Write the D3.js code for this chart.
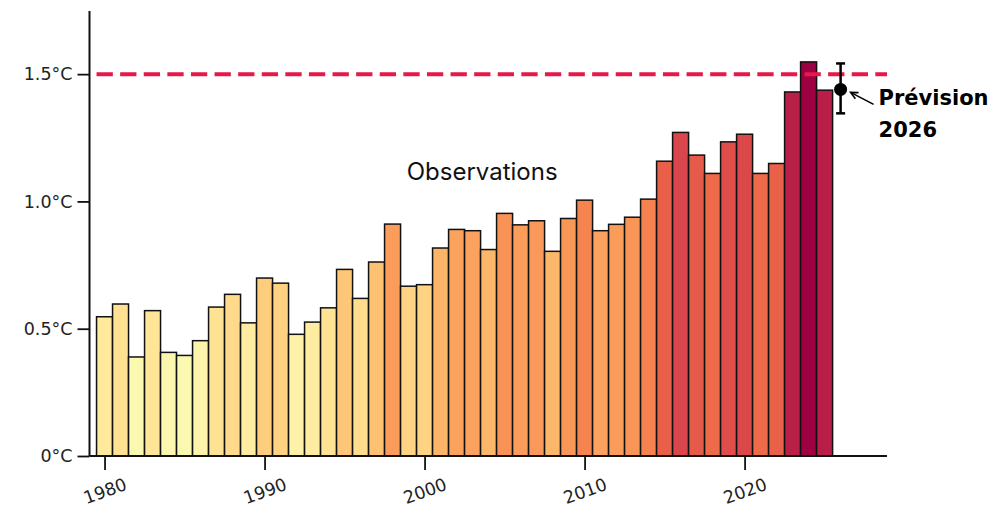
<!DOCTYPE html>
<html>
<head>
<meta charset="utf-8">
<script src="https://cdn.jsdelivr.net/npm/d3@7"></script>
<style>
  html, body { margin: 0; padding: 0; background: #fff; }
  svg { display: block; }
</style>
</head>
<body>
<svg id="chart" width="1005" height="508"></svg>
<script>
// Annual global temperature anomaly (°C above pre-industrial), 1980–2025
const years = d3.range(1980, 2026);
const anomalies = [
  0.547, 0.597, 0.389, 0.571, 0.407, 0.395, 0.453, 0.585, 0.635, 0.523,
  0.699, 0.679, 0.478, 0.526, 0.582, 0.733, 0.619, 0.762, 0.911, 0.667,
  0.673, 0.817, 0.890, 0.885, 0.811, 0.953, 0.908, 0.924, 0.804, 0.933,
  1.005, 0.885, 0.910, 0.938, 1.009, 1.158, 1.271, 1.182, 1.110, 1.234,
  1.264, 1.110, 1.149, 1.430, 1.548, 1.437
];
// Forecast for next year with its uncertainty range
const forecastYear = [2026];
const forecastValue = [1.44];
const forecastRange = [1.346, 1.542];
const thresholdValue = [1.5];

const yTicks = [0, 0.5, 1.0, 1.5];
const yTickLabels = ["0°C", "0.5°C", "1.0°C", "1.5°C"];
const xTicks = [1980, 1990, 2000, 2010, 2020];

const svg = d3.select("#chart");

const x = d3.scaleLinear().domain([1979.06, 2028.9]).range([89.5, 887]);
const y = d3.scaleLinear().domain([0, 1.748]).range([456, 11]);
// value -> position along the Spectral scheme (dark red for the warmest years)
const colorT = d3.scaleLinear().domain([1.548, 0.389]).range([0, 0.5]);

const barW = x(1981) - x(1980);

// bars
svg.append("g")
  .selectAll("rect")
  .data(years.map((yr, i) => ({ yr, v: anomalies[i] })))
  .join("rect")
  .attr("x", d => x(d.yr) - barW / 2)
  .attr("width", barW)
  .attr("y", d => y(d.v))
  .attr("height", d => y(0) - y(d.v))
  .attr("fill", d => d3.interpolateSpectral(colorT(d.v)))
  .attr("stroke", "#111")
  .attr("stroke-width", 1.5);

// 1.5 °C threshold
svg.append("line")
  .attr("x1", x(1979.5)).attr("x2", x(2028.9))
  .attr("y1", y(thresholdValue[0])).attr("y2", y(thresholdValue[0]))
  .attr("stroke", "#e5194a")
  .attr("stroke-width", 4)
  .attr("stroke-dasharray", "16.3,7.3");

// y axis
const yAxis = d3.axisLeft(y)
  .tickValues(yTicks)
  .tickFormat((d, i) => yTickLabels[i])
  .tickSize(12)
  .tickPadding(5);
const gy = svg.append("g").attr("transform", `translate(${x.range()[0]},0)`).call(yAxis);
gy.select(".domain").attr("d", `M0,${y.range()[1]}V${y.range()[0]}`)
  .attr("stroke", "#111").attr("stroke-width", 2);
gy.selectAll(".tick line").attr("stroke", "#111").attr("stroke-width", 1.8);
gy.selectAll(".tick text")
  .attr("font-family", "DejaVu Sans")
  .attr("font-size", 17.5)
  .attr("fill", "#222");

// x axis
const xAxis = d3.axisBottom(x).tickValues(xTicks).tickFormat(d3.format("d")).tickSize(14);
const gx = svg.append("g").attr("transform", `translate(0,${y(0)})`).call(xAxis);
gx.select(".domain").attr("d", `M${x.range()[0]},0H${x.range()[1]}`)
  .attr("stroke", "#111").attr("stroke-width", 2);
gx.selectAll(".tick line").attr("stroke", "#111").attr("stroke-width", 1.8);
gx.selectAll(".tick text")
  .attr("font-family", "DejaVu Sans")
  .attr("font-size", 17.5)
  .attr("fill", "#222")
  .attr("text-anchor", "middle")
  .attr("y", 0).attr("dy", "0.35em")
  .attr("transform", "translate(0,35) rotate(-20)");

// forecast point with error bar
const fx = x(forecastYear[0]);
const fg = svg.append("g").attr("stroke", "#000").attr("stroke-width", 2.5);
fg.append("line").attr("x1", fx).attr("x2", fx)
  .attr("y1", y(forecastRange[0])).attr("y2", y(forecastRange[1]));
fg.append("line").attr("x1", fx - 4.5).attr("x2", fx + 4.5)
  .attr("y1", y(forecastRange[0])).attr("y2", y(forecastRange[0]));
fg.append("line").attr("x1", fx - 4.5).attr("x2", fx + 4.5)
  .attr("y1", y(forecastRange[1])).attr("y2", y(forecastRange[1]));
svg.append("circle").attr("cx", fx).attr("cy", y(forecastValue[0])).attr("r", 6.5).attr("fill", "#000");

// annotation arrow
const ax0 = fx + 33, ay0 = y(forecastValue[0]) + 15;
const ax1 = fx + 10, ay1 = y(forecastValue[0]) + 3;
svg.append("line")
  .attr("x1", ax0).attr("y1", ay0).attr("x2", ax1).attr("y2", ay1)
  .attr("stroke", "#000").attr("stroke-width", 1.6);
const ang = Math.atan2(ay0 - ay1, ax0 - ax1);
const hl = 8, hw = 0.45;
svg.append("path")
  .attr("d", `M${ax1 + hl * Math.cos(ang - hw)},${ay1 + hl * Math.sin(ang - hw)}L${ax1},${ay1}L${ax1 + hl * Math.cos(ang + hw)},${ay1 + hl * Math.sin(ang + hw)}`)
  .attr("fill", "none").attr("stroke", "#000").attr("stroke-width", 1.6);

const lbl = svg.append("text")
  .attr("x", fx + 38).attr("y", 105)
  .attr("font-family", "DejaVu Sans, sans-serif")
  .attr("font-weight", "bold")
  .attr("font-size", 21)
  .attr("fill", "#000");
lbl.append("tspan").text("Prévision");
lbl.append("tspan").attr("x", fx + 38).attr("dy", 32).text(String(forecastYear[0]));

// series label
svg.append("text")
  .attr("x", x(2003.6)).attr("y", 180)
  .attr("text-anchor", "middle")
  .attr("font-family", "Inter, sans-serif")
  .attr("font-size", 24)
  .attr("fill", "#111")
  .text("Observations");
</script>
</body>
</html>
